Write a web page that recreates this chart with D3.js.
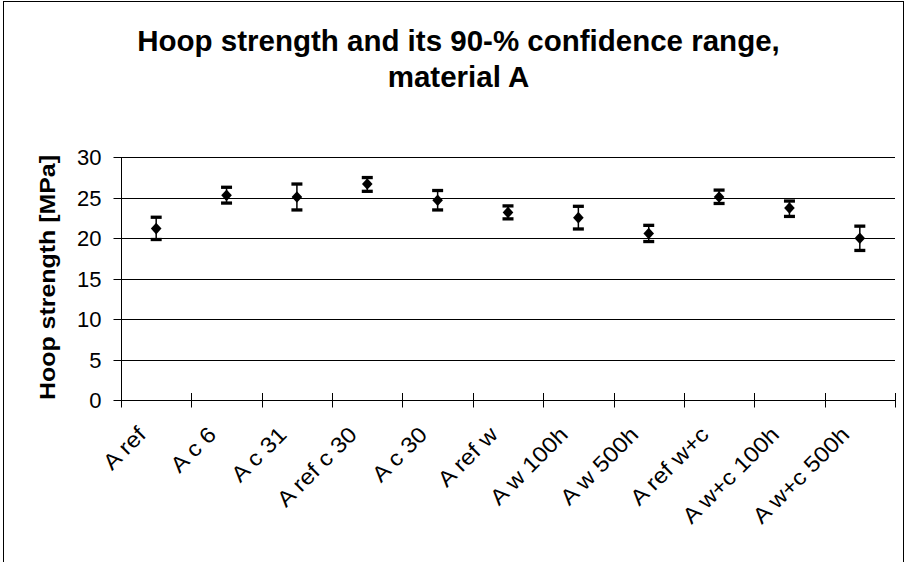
<!DOCTYPE html>
<html>
<head>
<meta charset="utf-8">
<script src="https://cdn.jsdelivr.net/npm/d3@7"></script>
<style>
  html, body { margin: 0; padding: 0; background: #fff; }
  svg { display: block; font-family: "Liberation Sans", Arial, sans-serif; }
</style>
</head>
<body>
<svg id="chart" width="906" height="562"></svg>
<script>
const categories = ["A ref", "A c 6", "A c 31", "A ref c 30", "A c 30", "A ref w",
  "A w 100h", "A w 500h", "A ref w+c", "A w+c 100h", "A w+c 500h"];
const strength = [21.2, 25.3, 25.1, 26.7, 24.7, 23.2, 22.55, 20.6, 25.1, 23.75, 20.0];
const upper    = [22.6, 26.3, 26.7, 27.5, 25.9, 24.0, 23.95, 21.6, 25.95, 24.6, 21.5];
const lower    = [19.85, 24.35, 23.5, 25.8, 23.5, 22.4, 21.15, 19.6, 24.3, 22.7, 18.5];
const yTicks   = [0, 5, 10, 15, 20, 25, 30];
const titleLines = ["Hoop strength and its 90-% confidence range,", "material A"];
const yTitle = "Hoop strength [MPa]";

(function () {
const svg = d3.select("#chart");
const pl = 121, pr = 895, pt = 157.3, pb = 400.3;

// outer chart border
svg.append("rect").attr("x", 3.5).attr("y", 1.5).attr("width", 900).attr("height", 600)
  .attr("fill", "none").attr("stroke", "#000").attr("stroke-width", 1);

const x = d3.scaleBand().domain(categories).range([pl, pr]).padding(0);
const y = d3.scaleLinear().domain([0, 30]).range([pb, pt]);

// gridlines
svg.append("g").selectAll("line").data(yTicks.filter(d => d > 0)).join("line")
  .attr("x1", pl).attr("x2", pr)
  .attr("y1", d => Math.round(y(d)) + 0.5).attr("y2", d => Math.round(y(d)) + 0.5)
  .attr("stroke", "#000").attr("stroke-width", 1);

// y axis
const yAxis = svg.append("g").attr("transform", `translate(${pl + 0.5},0)`)
  .call(d3.axisLeft(y).tickValues(yTicks).tickSize(8).tickPadding(12).tickFormat(d3.format("d")));
yAxis.select(".domain").attr("stroke", "#000").attr("d", `M0,${Math.round(pt) + 0.5}V${Math.round(pb) + 0.5}`);
yAxis.selectAll(".tick line").attr("x2", -8).attr("stroke", "#000");
yAxis.selectAll(".tick").attr("transform", d => `translate(0,${Math.round(y(d)) + 0.5})`);
yAxis.selectAll("text").attr("font-size", 22).attr("font-family", "Liberation Sans, Arial, sans-serif")
  .attr("fill", "#000").attr("x", -20).attr("dy", "0.35em");

// x axis
const xAxis = svg.append("g").attr("transform", `translate(0,${Math.round(pb)})`)
  .call(d3.axisBottom(x).tickSize(0).tickFormat(""));
xAxis.select(".domain").attr("stroke", "#000").attr("d", `M${pl},0.5H${pr + 1}`);
xAxis.selectAll(".tick").remove();
const tickPos = categories.map(c => x(c)).concat([x(categories[categories.length - 1]) + x.bandwidth()]);
xAxis.append("g").selectAll("line").data(tickPos).join("line")
  .attr("x1", d => Math.round(d) + 0.5).attr("x2", d => Math.round(d) + 0.5)
  .attr("y1", -7).attr("y2", 7.5).attr("stroke", "#000");

// x labels
svg.append("g").selectAll("text").data(categories).join("text")
  .attr("transform", d => `translate(${x(d) + x.bandwidth() / 2 - 9},${436}) rotate(-45)`)
  .attr("text-anchor", "end").attr("font-size", 22).attr("fill", "#000")
  .text(d => d)
  .each(function () {
    const L = this.getComputedTextLength();
    d3.select(this).attr("textLength", L * 1.1).attr("lengthAdjust", "spacingAndGlyphs");
  });

// error bars
const eg = svg.append("g");
categories.forEach((c, i) => {
  const cx = x(c) + x.bandwidth() / 2;
  eg.append("line").attr("x1", cx).attr("x2", cx).attr("y1", y(upper[i])).attr("y2", y(lower[i]))
    .attr("stroke", "#000").attr("stroke-width", 1.5);
  [upper[i], lower[i]].forEach(v => {
    eg.append("line").attr("x1", cx - 5.5).attr("x2", cx + 5.5).attr("y1", y(v)).attr("y2", y(v))
      .attr("stroke", "#000").attr("stroke-width", 3.3);
  });
});

// diamond markers
svg.append("g").selectAll("path").data(categories).join("path")
  .attr("transform", (d, i) => `translate(${x(d) + x.bandwidth() / 2},${y(strength[i])})`)
  .attr("d", "M0,-5.8L5.3,0L0,5.8L-5.3,0Z").attr("fill", "#000");

// title
svg.append("g").selectAll("text").data(titleLines).join("text")
  .attr("x", 458.5).attr("y", (d, i) => 50.7 + i * 36.5)
  .attr("text-anchor", "middle").attr("font-size", 29.5).attr("font-weight", "bold")
  .attr("fill", "#000").text(d => d);

// y title
svg.append("text").attr("transform", `translate(55,277.5) rotate(-90)`)
  .attr("text-anchor", "middle").attr("font-size", 22).attr("font-weight", "bold")
  .attr("textLength", 245).attr("lengthAdjust", "spacingAndGlyphs")
  .attr("fill", "#000").text(yTitle);
})();
</script>
</body>
</html>
